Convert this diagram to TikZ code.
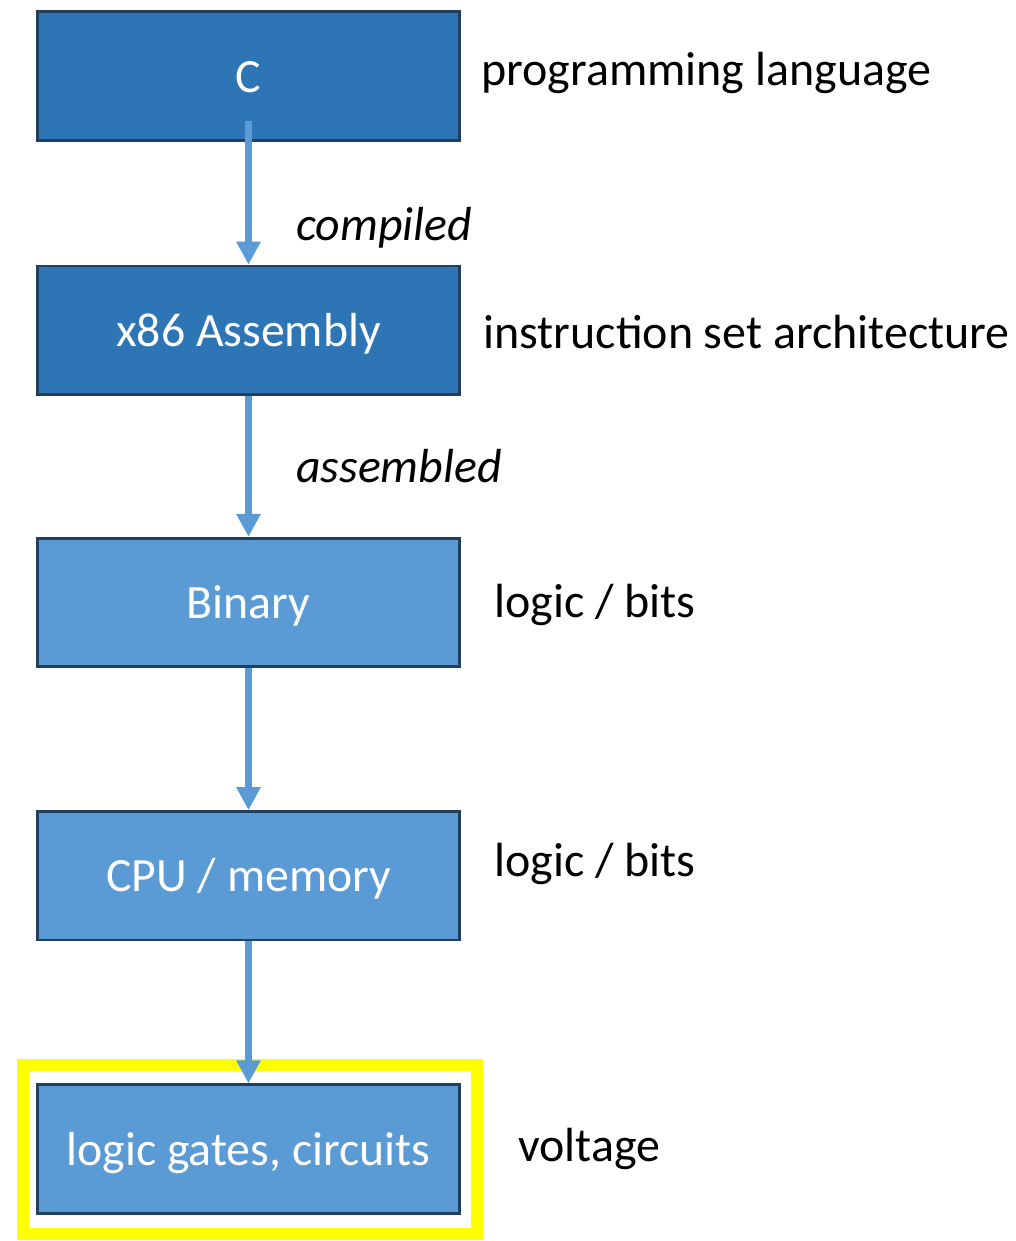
\documentclass[tikz,border=0pt]{standalone}
\usepackage{fontspec}
\setmainfont{Carlito}
\usepackage{tikz}
\usetikzlibrary{arrows.meta,positioning}
\definecolor{layerDark}{HTML}{2E75B6}
\definecolor{layerLight}{HTML}{5B9BD5}
\definecolor{layerEdge}{HTML}{223F5E}
\definecolor{flowBlue}{HTML}{5B9BD5}
\definecolor{markYellow}{HTML}{FFFF00}
\begin{document}
\begin{tikzpicture}[
  x=0.02cm, y=-0.02cm,
  layer/.style={rectangle, draw=layerEdge, line width=1.6pt, minimum width=8.44cm, minimum height=2.57cm, text=white, font=\fontsize{27.2}{32}\selectfont, inner sep=0pt, text height=0.8cm, text depth=0.16cm},
  upper/.style={layer, fill=layerDark},
  lower/.style={layer, fill=layerLight},
  side/.style={anchor=base west, inner sep=0pt, font=\fontsize{27.3}{32}\selectfont},
  step label/.style={anchor=base west, inner sep=0pt, font=\fontsize{27.2}{32}\itshape\selectfont},
  arrow/.style={-{Triangle[width=0.46cm, length=0.46cm]}, line width=4.5pt, draw=flowBlue}
]
\useasboundingbox (0,0) rectangle (1016,1241);
\node[upper] (lang) at (248.5,76) {C};
\node[upper, below=2.46cm of lang] (asm) {x86 Assembly};
\node[lower, below=2.82cm of asm] (binary) {Binary};
\node[lower, below=2.84cm of binary] (cpu) {CPU / memory};
\node[lower, below=2.84cm of cpu] (gates) {logic gates, circuits};
% highlight frame
\draw[markYellow, line width=6.8pt] (23,1065) rectangle (477,1234);
\node[side] (langnote) at (481,85) {programming language};
\node[side] (asmnote) at (483,348) {instruction set architecture};
\node[side] (binnote) at (494,617) {logic / bits};
\node[side] (cpunote) at (494,876) {logic / bits};
\node[side] (gatenote) at (518,1161) {voltage};
\node[step label] (compiled) at (296,240) {compiled};
\node[step label] (assembled) at (296,482) {assembled};
\draw[arrow] ([yshift=0.42cm]lang.south) -- (asm.north);
\draw[arrow] (asm) -- (binary);
\draw[arrow] (binary) -- (cpu);
\draw[arrow] (cpu) -- (gates);
\end{tikzpicture}
\end{document}
